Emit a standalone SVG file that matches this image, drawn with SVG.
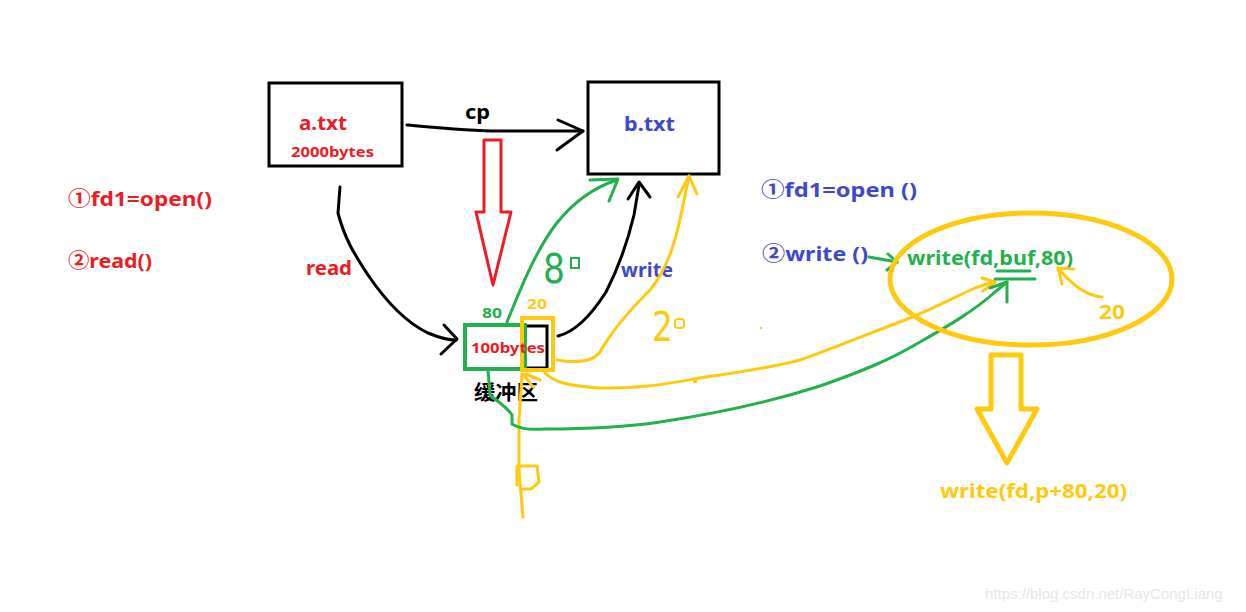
<svg xmlns="http://www.w3.org/2000/svg" width="1246" height="612" viewBox="0 0 1246 612">
<style>
.t{font-family:"Noto Sans","Open Sans","Noto Sans CJK SC",sans-serif;font-weight:bold}
.red{fill:#ed1c24}.blue{fill:#3f48cc}.green{fill:#22b14c}.yel{fill:#ffc90e}.blk{fill:#000}
.ln{fill:none;stroke-linecap:round;stroke-linejoin:round}
.k{stroke:#000;stroke-width:3}.g{stroke:#22b14c;stroke-width:3}.y{stroke:#ffc90e;stroke-width:3}.r{stroke:#ed1c24;stroke-width:3}
.hw{font-family:"DejaVu Sans",sans-serif;font-weight:normal}
</style>
<rect width="1246" height="612" fill="#fff"/>

<g id="node-a">
<rect x="269" y="83" width="133" height="83" fill="none" stroke="#000" stroke-width="3"/>
<text class="t red" x="299" y="130" font-size="20" textLength="48" lengthAdjust="spacingAndGlyphs">a.txt</text>
<text class="t red" x="291" y="157" font-size="15" textLength="83" lengthAdjust="spacingAndGlyphs">2000bytes</text>
</g>

<g id="node-b">
<rect x="588" y="82" width="131" height="92" fill="none" stroke="#000" stroke-width="3"/>
<text class="t blue" x="624" y="131" font-size="20" textLength="51" lengthAdjust="spacingAndGlyphs">b.txt</text>
</g>

<g id="node-buffer">
<rect x="523" y="326" width="24" height="42" fill="none" stroke="#000" stroke-width="3"/>
<rect x="465" y="325" width="60" height="44" fill="none" stroke="#22b14c" stroke-width="4"/>
<rect x="522" y="318" width="31" height="52" fill="none" stroke="#ffc90e" stroke-width="4"/>
<text class="t red" x="471" y="353" font-size="15" textLength="74" lengthAdjust="spacingAndGlyphs">100bytes</text>
<text class="t green" x="482" y="318" font-size="15" textLength="20" lengthAdjust="spacingAndGlyphs">80</text>
<text class="t yel" x="527" y="309" font-size="15" textLength="20" lengthAdjust="spacingAndGlyphs">20</text>
<text class="t blk" x="474" y="400" font-size="20" textLength="64" lengthAdjust="spacingAndGlyphs">缓冲区</text>
</g>

<g id="left-notes">
<text class="t red" x="68" y="206" font-size="20" textLength="144" lengthAdjust="spacingAndGlyphs">①fd1=open()</text>
<text class="t red" x="68" y="268" font-size="20" textLength="84" lengthAdjust="spacingAndGlyphs">②read()</text>
</g>

<g id="right-notes">
<text class="t blue" x="761" y="197" font-size="20" textLength="156" lengthAdjust="spacingAndGlyphs">①fd1=open  ()</text>
<text class="t blue" x="762" y="261" font-size="20" textLength="106" lengthAdjust="spacingAndGlyphs">②write  ()</text>
<text class="t green" x="907" y="265" font-size="20" textLength="166" lengthAdjust="spacingAndGlyphs">write(fd,buf,80)</text>
<text class="t yel" x="1099" y="319" font-size="20" textLength="26" lengthAdjust="spacingAndGlyphs">20</text>
<text class="t yel" x="940" y="498" font-size="20" textLength="187" lengthAdjust="spacingAndGlyphs">write(fd,p+80,20)</text>
</g>

<g id="connectors">
<!-- cp -->
<path class="ln k" d="M407,125 C440,128 470,131 500,131 L583,131"/>
<path class="ln k" d="M558,120 L583,131 L557,150"/>
<text class="t blk" x="465" y="119" font-size="20" textLength="25" lengthAdjust="spacingAndGlyphs">cp</text>
<!-- red hollow arrow -->
<path class="ln r" d="M484,140 L501,140 L501,212 L511,212 L493,285 L476,212 L484,212 Z"/>
<!-- read -->
<path class="ln k" d="M340,187 L338,213 C345,240 355,255 368,275 C385,300 405,322 428,333 C440,338 448,340 456,340"/>
<path class="ln k" d="M444,325 L457,339 L441,354"/>
<text class="t red" x="306" y="275" font-size="20" textLength="46" lengthAdjust="spacingAndGlyphs">read</text>
<!-- green to b.txt -->
<path class="ln g" d="M507,322 C520,290 535,252 556,224 C575,200 595,187 617,180"/>
<path class="ln g" d="M590,180 L618,179 L609,201"/>
<text class="hw green" x="543" y="283" font-size="40" textLength="22" lengthAdjust="spacingAndGlyphs">8</text>
<rect x="571" y="258" width="8" height="10" fill="none" stroke="#22b14c" stroke-width="2"/>
<!-- black write -->
<path class="ln k" d="M558,336 C575,332 592,314 606,292 C620,265 628,240 634,215 L639,185"/>
<path class="ln k" d="M628,199 L639,182 L650,197"/>
<text class="t blue" x="621" y="277" font-size="20" textLength="52" lengthAdjust="spacingAndGlyphs">write</text>
<!-- yellow to b.txt -->
<path class="ln y" d="M557,360 C575,363 592,363 600,352 C612,330 630,310 650,290 C668,268 676,240 682,210 L689,176"/>
<path class="ln y" d="M678,197 L689,176 L697,194"/>
<text class="hw yel" x="652" y="341" font-size="40" textLength="21" lengthAdjust="spacingAndGlyphs">2</text>
<rect x="675" y="319" width="9" height="9" rx="3" fill="none" stroke="#ffc90e" stroke-width="2"/>
<!-- yellow to buf -->
<path class="ln y" d="M545,373 C555,383 570,386 600,388 C640,389 665,384 700,378 C740,372 770,368 800,360 C840,346 870,333 905,320 C935,308 955,297 975,288 C985,284 990,283 995,282"/>
<path class="ln y" d="M982,278 L995,282 L983,291"/>
<rect x="693" y="378" width="4" height="5" fill="#ffc90e"/>
<rect x="760" y="327" width="2" height="2" fill="#ffc90e"/>
<!-- yellow vertical with p -->
<path class="ln y" d="M522,374 L519,420 L519,470 L523,517"/>
<path class="ln y" d="M523,374 L533,387 M526,374 L540,380"/>
<path class="ln y" d="M517,485 L517,466 L537,466 L539,482 L531,489 L522,489"/>
<!-- green to buf -->
<path class="ln g" d="M488,370 L490,395 C498,402 508,408 512,415 L512,424 C518,428 525,430 545,429 C580,429 620,428 660,422 C720,413 770,402 820,386 C860,372 890,360 920,342 C950,325 975,310 995,292 L1007,282"/>
<path class="ln g" d="M990,288 L1007,282 L1007,302"/>
<path class="ln g" d="M997,271 L1030,271 M995,279 L1035,279"/>
<!-- write() to write(fd..) -->
<path class="ln g" d="M869,257 L897,262"/>
<path class="ln g" d="M888,254 L897,262 L887,270"/>
<!-- ellipse -->
<ellipse cx="1031" cy="279" rx="141" ry="66" fill="none" stroke="#ffc90e" stroke-width="5"/>
<!-- 20 arrow -->
<path class="ln y" d="M1102,297 C1088,296 1072,285 1058,268"/>
<path class="ln y" d="M1058,268 L1074,269 M1058,268 L1062,284"/>
<!-- yellow hollow arrow -->
<path class="ln" stroke="#ffc90e" stroke-width="5" d="M991,355 L1021,355 L1021,409 L1037,409 L1007,463 L977,409 L991,409 Z"/>
</g>

<text x="985" y="599" font-family="Liberation Sans,Arial,sans-serif" font-size="15" fill="#e6e6e6">https://blog.csdn.net/RayCongLiang</text>
</svg>
